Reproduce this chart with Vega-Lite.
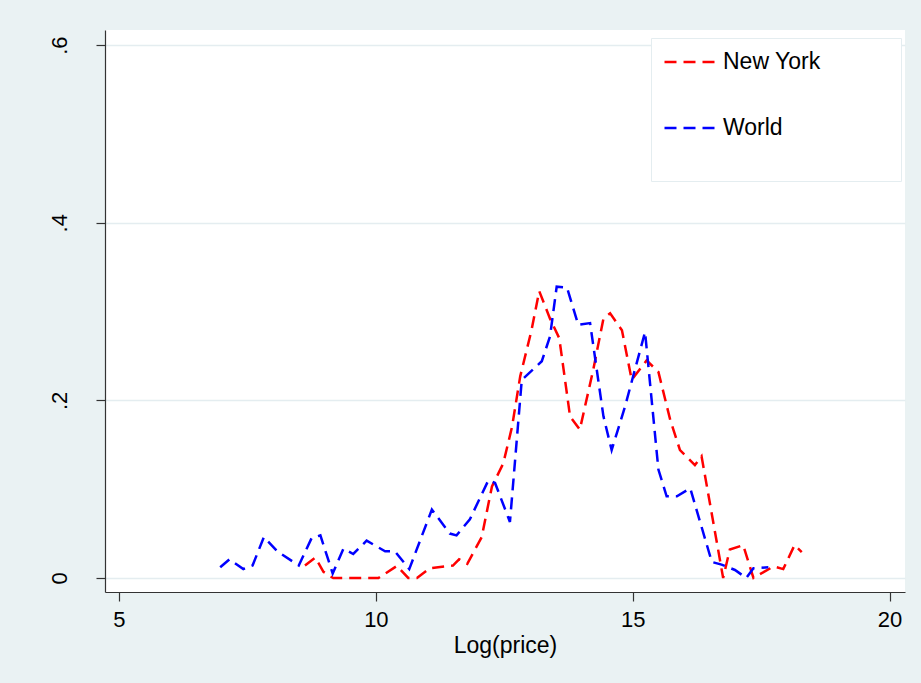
{
  "$schema": "https://vega.github.io/schema/vega-lite/v6.json",
  "width": 800,
  "height": 562,
  "autosize": "none",
  "padding": {"left": 105, "top": 30, "right": 16, "bottom": 91},
  "background": "#EAF2F3",
  "config": {
    "view": {"fill": "white", "stroke": null},
    "font": "Liberation Sans"
  },
  "data": {
    "values": [
      {"series": "New York", "x": 8.62, "y": 0.014},
      {"series": "New York", "x": 8.82, "y": 0.023},
      {"series": "New York", "x": 8.98, "y": 0.007},
      {"series": "New York", "x": 9.11, "y": 0.002},
      {"series": "New York", "x": 9.17, "y": 0},
      {"series": "New York", "x": 10.05, "y": 0},
      {"series": "New York", "x": 10.41, "y": 0.0135},
      {"series": "New York", "x": 10.63, "y": 0},
      {"series": "New York", "x": 10.8, "y": 0},
      {"series": "New York", "x": 11.05, "y": 0.011},
      {"series": "New York", "x": 11.5, "y": 0.014},
      {"series": "New York", "x": 11.62, "y": 0.021},
      {"series": "New York", "x": 11.78, "y": 0.016},
      {"series": "New York", "x": 12.06, "y": 0.046},
      {"series": "New York", "x": 12.26, "y": 0.103},
      {"series": "New York", "x": 12.48, "y": 0.129},
      {"series": "New York", "x": 12.65, "y": 0.17},
      {"series": "New York", "x": 12.81, "y": 0.227},
      {"series": "New York", "x": 13.03, "y": 0.279},
      {"series": "New York", "x": 13.18, "y": 0.323},
      {"series": "New York", "x": 13.39, "y": 0.292},
      {"series": "New York", "x": 13.57, "y": 0.27},
      {"series": "New York", "x": 13.78, "y": 0.182},
      {"series": "New York", "x": 13.97, "y": 0.167},
      {"series": "New York", "x": 14.23, "y": 0.234},
      {"series": "New York", "x": 14.43, "y": 0.292},
      {"series": "New York", "x": 14.56, "y": 0.298},
      {"series": "New York", "x": 14.79, "y": 0.279},
      {"series": "New York", "x": 14.98, "y": 0.223},
      {"series": "New York", "x": 15.27, "y": 0.245},
      {"series": "New York", "x": 15.5, "y": 0.232},
      {"series": "New York", "x": 15.73, "y": 0.178},
      {"series": "New York", "x": 15.92, "y": 0.144},
      {"series": "New York", "x": 16.21, "y": 0.127},
      {"series": "New York", "x": 16.34, "y": 0.137},
      {"series": "New York", "x": 16.76, "y": 0},
      {"series": "New York", "x": 16.89, "y": 0.032},
      {"series": "New York", "x": 17.15, "y": 0.037},
      {"series": "New York", "x": 17.35, "y": 0},
      {"series": "New York", "x": 17.74, "y": 0.013},
      {"series": "New York", "x": 17.93, "y": 0.01},
      {"series": "New York", "x": 18.15, "y": 0.037},
      {"series": "New York", "x": 18.29, "y": 0.029},
      {"series": "World", "x": 6.97, "y": 0.012},
      {"series": "World", "x": 7.15, "y": 0.021},
      {"series": "World", "x": 7.42, "y": 0.01},
      {"series": "World", "x": 7.6, "y": 0.014},
      {"series": "World", "x": 7.82, "y": 0.046},
      {"series": "World", "x": 8.08, "y": 0.03},
      {"series": "World", "x": 8.5, "y": 0.014},
      {"series": "World", "x": 8.75, "y": 0.045},
      {"series": "World", "x": 8.92, "y": 0.048},
      {"series": "World", "x": 9.16, "y": 0.005},
      {"series": "World", "x": 9.37, "y": 0.033},
      {"series": "World", "x": 9.56, "y": 0.027},
      {"series": "World", "x": 9.82, "y": 0.042},
      {"series": "World", "x": 10.18, "y": 0.03},
      {"series": "World", "x": 10.37, "y": 0.03},
      {"series": "World", "x": 10.65, "y": 0.01},
      {"series": "World", "x": 11.09, "y": 0.077},
      {"series": "World", "x": 11.44, "y": 0.05},
      {"series": "World", "x": 11.57, "y": 0.048},
      {"series": "World", "x": 11.83, "y": 0.066},
      {"series": "World", "x": 12.19, "y": 0.11},
      {"series": "World", "x": 12.32, "y": 0.107},
      {"series": "World", "x": 12.61, "y": 0.063},
      {"series": "World", "x": 12.84, "y": 0.223},
      {"series": "World", "x": 13.23, "y": 0.244},
      {"series": "World", "x": 13.39, "y": 0.272},
      {"series": "World", "x": 13.52, "y": 0.328},
      {"series": "World", "x": 13.72, "y": 0.327},
      {"series": "World", "x": 13.94, "y": 0.285},
      {"series": "World", "x": 14.17, "y": 0.287},
      {"series": "World", "x": 14.43, "y": 0.182},
      {"series": "World", "x": 14.59, "y": 0.144},
      {"series": "World", "x": 14.85, "y": 0.193},
      {"series": "World", "x": 15.24, "y": 0.277},
      {"series": "World", "x": 15.5, "y": 0.122},
      {"series": "World", "x": 15.66, "y": 0.092},
      {"series": "World", "x": 15.86, "y": 0.092},
      {"series": "World", "x": 16.12, "y": 0.101},
      {"series": "World", "x": 16.54, "y": 0.018},
      {"series": "World", "x": 16.73, "y": 0.015},
      {"series": "World", "x": 16.99, "y": 0.009},
      {"series": "World", "x": 17.21, "y": 0},
      {"series": "World", "x": 17.35, "y": 0.011},
      {"series": "World", "x": 17.64, "y": 0.012}
    ]
  },
  "mark": {"type": "line", "strokeWidth": 2.5, "strokeDash": [12, 7], "clip": true},
  "encoding": {
    "x": {
      "field": "x", "type": "quantitative",
      "scale": {"domain": [4.7275, 20.3], "nice": false, "zero": false},
      "axis": {
        "title": "Log(price)", "values": [5, 10, 15, 20], "grid": false,
        "domainColor": "#333333", "tickColor": "#333333", "tickSize": 9, "domainWidth": 1.2, "tickWidth": 1.2,
        "labelFontSize": 22, "labelColor": "black", "labelPadding": 8,
        "titleFontSize": 23, "titleFontWeight": "normal", "titleColor": "black", "titlePadding": 4
      }
    },
    "y": {
      "field": "y", "type": "quantitative",
      "scale": {"domain": [-0.0158, 0.617], "nice": false, "zero": false},
      "axis": {
        "title": null, "values": [0, 0.2, 0.4, 0.6],
        "labelExpr": "datum.value === 0 ? '0' : '.' + round(datum.value * 10)",
        "labelAngle": -90, "labelAlign": "center", "labelBaseline": "bottom",
        "grid": true, "gridColor": "#E4EDF0", "gridWidth": 1.5,
        "domainColor": "#333333", "tickColor": "#333333", "tickSize": 9, "domainWidth": 1.2, "tickWidth": 1.2,
        "labelFontSize": 22, "labelColor": "black", "labelPadding": 25
      }
    },
    "color": {
      "field": "series", "type": "nominal",
      "scale": {"domain": ["New York", "World"], "range": ["#FF0000", "#0000FF"]},
      "legend": {
        "title": "\u2800", "titleOrient": "bottom", "titleFontSize": 10, "titlePadding": 19,
        "orient": "none", "legendX": 546, "legendY": 8,
        "symbolType": "stroke", "symbolSize": 2704, "symbolStrokeWidth": 2.5, "symbolDash": [12, 7],
        "clipHeight": 24,
        "labelFontSize": 23, "labelColor": "black", "labelOffset": 5,
        "labelExpr": "datum.label + '\u2800\u2800\u2800\u2800'",
        "labelLimit": 400,
        "fillColor": "white", "strokeColor": "#E4EDF0", "padding": 12, "rowPadding": 42
      }
    },
    "order": {"field": "x", "type": "quantitative"}
  }
}
